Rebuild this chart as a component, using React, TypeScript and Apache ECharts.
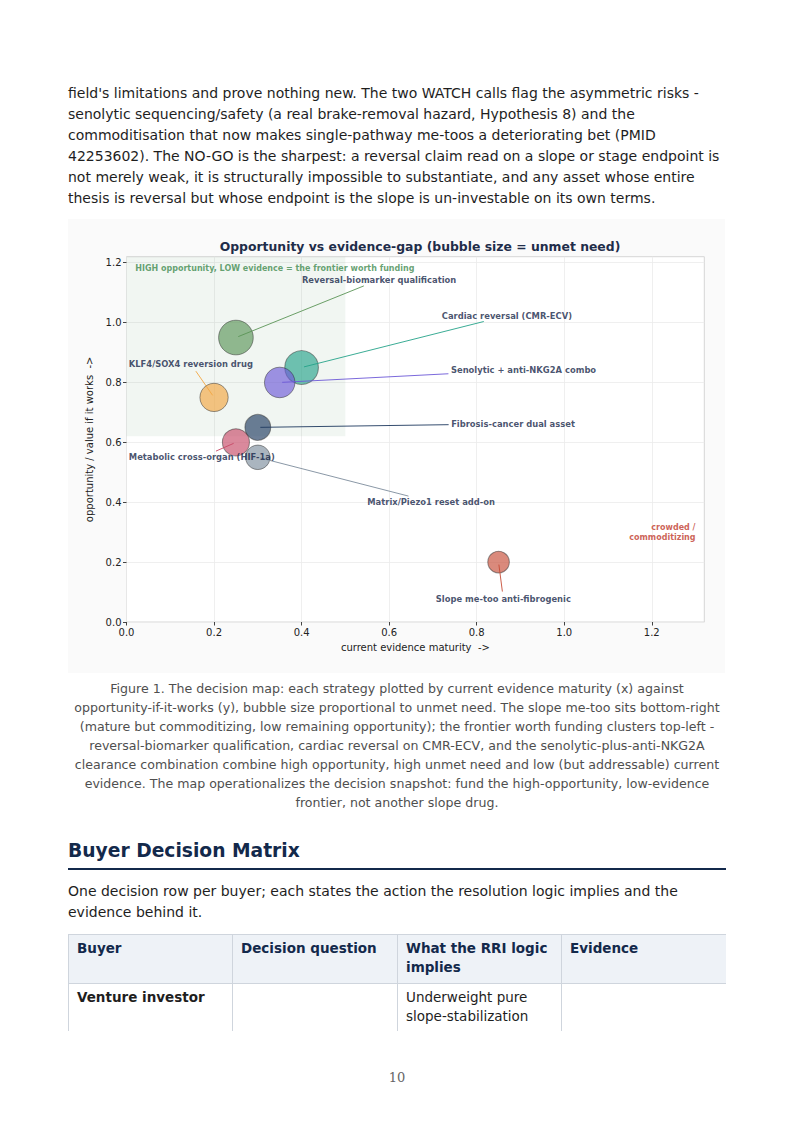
import React, { useEffect, useRef } from "react";
import * as echarts from "echarts";

// ---- chart data ----
const strategies = [
  "Reversal-biomarker qualification",
  "Cardiac reversal (CMR-ECV)",
  "Senolytic + anti-NKG2A combo",
  "KLF4/SOX4 reversion drug",
  "Fibrosis-cancer dual asset",
  "Metabolic cross-organ (HIF-1a)",
  "Matrix/Piezo1 reset add-on",
  "Slope me-too anti-fibrogenic",
];
const evidence = [0.25, 0.4, 0.35, 0.2, 0.3, 0.25, 0.3, 0.85];
const opportunity = [0.95, 0.85, 0.8, 0.75, 0.65, 0.6, 0.55, 0.2];
const unmetNeed = [0.9, 0.85, 0.7, 0.6, 0.5, 0.55, 0.45, 0.35];
const bubbleColors = ["#5b9557", "#26a38a", "#6d59d7", "#f3a641", "#1f3a5f", "#c64967", "#7d8d9c", "#c64c36"];
// annotation text positions (data coords)
const labelX = [0.577, 0.869, 0.907, 0.147, 0.883, 0.172, 0.696, 0.861];
const labelY = [1.143, 1.023, 0.842, 0.862, 0.662, 0.55, 0.401, 0.076];
const xTicks = [0, 0.2, 0.4, 0.6, 0.8, 1.0, 1.2];
const yTicks = [0, 0.2, 0.4, 0.6, 0.8, 1.0, 1.2];
const xRange = [0, 1.32];
const yRange = [0, 1.22];
const frontierX = [0, 0.5];
const frontierY = [0.62, 1.22];
const frontierNote = { text: "HIGH opportunity, LOW evidence = the frontier worth funding", x: 0.02, y: 1.18 };
const crowdedNote = { text: "crowded /\ncommoditizing", x: 1.3, y: 0.3 };

const introLines = [
  "field's limitations and prove nothing new. The two WATCH calls flag the asymmetric risks -",
  "senolytic sequencing/safety (a real brake-removal hazard, Hypothesis 8) and the",
  "commoditisation that now makes single-pathway me-toos a deteriorating bet (PMID",
  "42253602). The NO-GO is the sharpest: a reversal claim read on a slope or stage endpoint is",
  "not merely weak, it is structurally impossible to substantiate, and any asset whose entire",
  "thesis is reversal but whose endpoint is the slope is un-investable on its own terms.",
];
const captionLines = [
  "Figure 1. The decision map: each strategy plotted by current evidence maturity (x) against",
  "opportunity-if-it-works (y), bubble size proportional to unmet need. The slope me-too sits bottom-right",
  "(mature but commoditizing, low remaining opportunity); the frontier worth funding clusters top-left -",
  "reversal-biomarker qualification, cardiac reversal on CMR-ECV, and the senolytic-plus-anti-NKG2A",
  "clearance combination combine high opportunity, high unmet need and low (but addressable) current",
  "evidence. The map operationalizes the decision snapshot: fund the high-opportunity, low-evidence",
  "frontier, not another slope drug.",
];
const matrixLines = [
  "One decision row per buyer; each states the action the resolution logic implies and the",
  "evidence behind it.",
];
const tableHeader = ["Buyer", "Decision question", "What the RRI logic implies", "Evidence"];
const tableRow = ["Venture investor", "", "Underweight pure slope-stabilization", ""];

const FONT = "'DejaVu Sans', Verdana, sans-serif";
const LABEL_SIZE = 8.4;

function Chart() {
  const ref = useRef<HTMLDivElement>(null);
  useEffect(() => {
    if (!ref.current) return;
    const chart = echarts.init(ref.current, null, { renderer: "svg" });
    const base: any = {
      animation: false,
      backgroundColor: "#fafafa",
      textStyle: { fontFamily: FONT },
      title: {
        text: "Opportunity vs evidence-gap (bubble size = unmet need)",
        left: 347,
        top: 16,
        textAlign: "center",
        textStyle: { fontFamily: FONT, fontSize: 12.4, fontWeight: "bold", color: "#1f2d4a" },
      },
      grid: {
        left: 58.5,
        right: 20.7,
        top: 37.7,
        bottom: 51,
        show: true,
        backgroundColor: "#ffffff",
        borderColor: "#d6d6d6",
        borderWidth: 1,
      },
      xAxis: {
        type: "value",
        min: xRange[0],
        max: xRange[1],
        interval: 0.2,
        name: "current evidence maturity  ->",
        nameLocation: "middle",
        nameGap: 20,
        nameTextStyle: { fontFamily: FONT, fontSize: 10, color: "#222" },
        axisLine: { show: false },
        axisTick: { show: true, length: 3.5, lineStyle: { color: "#444" }, customValues: xTicks },
        axisLabel: {
          customValues: xTicks,
          formatter: (v: number) => v.toFixed(1),
          fontFamily: FONT,
          fontSize: 10,
          color: "#222",
          margin: 5,
        },
        splitLine: { show: true, lineStyle: { color: "#ebebeb", width: 0.8 } },
      },
      yAxis: {
        type: "value",
        min: yRange[0],
        max: yRange[1],
        interval: 0.2,
        name: "opportunity / value if it works  ->",
        nameLocation: "middle",
        nameGap: 22,
        nameTextStyle: { fontFamily: FONT, fontSize: 10, color: "#222" },
        axisLine: { show: false },
        axisTick: { show: true, length: 3.5, lineStyle: { color: "#444" }, customValues: yTicks },
        axisLabel: {
          customValues: yTicks,
          formatter: (v: number) => v.toFixed(1),
          fontFamily: FONT,
          fontSize: 10,
          color: "#222",
          margin: 5,
        },
        splitLine: { show: true, lineStyle: { color: "#ebebeb", width: 0.8 } },
      },
      series: [
        {
          type: "scatter",
          name: "strategies",
          z: 3,
          data: strategies.map((n, i) => ({
            name: n,
            value: [evidence[i], opportunity[i], unmetNeed[i]],
            symbolSize: 36.5 * Math.sqrt(unmetNeed[i]),
            itemStyle: {
              color: bubbleColors[i],
              opacity: 0.65,
              borderColor: "rgba(40,40,40,0.75)",
              borderWidth: 1,
            },
          })),
          markArea: {
            silent: true,
            itemStyle: { color: "rgba(70,130,80,0.075)" },
            data: [[{ xAxis: frontierX[0], yAxis: frontierY[0] }, { xAxis: frontierX[1], yAxis: frontierY[1] }]],
          },
        },
        {
          type: "scatter",
          name: "labels",
          z: 6,
          silent: true,
          symbolSize: 1,
          itemStyle: { color: "transparent" },
          data: strategies.map((n, i) => ({ name: n, value: [labelX[i], labelY[i]] })),
          label: {
            show: true,
            position: "inside",
            formatter: "{b}",
            fontFamily: FONT,
            fontSize: LABEL_SIZE,
            fontWeight: "bold",
            color: "#18284a",
          },
        },
        {
          type: "scatter",
          name: "notes",
          z: 6,
          silent: true,
          symbolSize: 1,
          itemStyle: { color: "transparent" },
          data: [
            {
              name: frontierNote.text,
              value: [frontierNote.x, frontierNote.y],
              label: { align: "left", color: "#3f8a4f" },
            },
            {
              name: crowdedNote.text,
              value: [crowdedNote.x, crowdedNote.y],
              label: { align: "right", color: "#c0392b", lineHeight: 10 },
            },
          ],
          label: {
            show: true,
            position: "inside",
            formatter: "{b}",
            fontFamily: FONT,
            fontSize: 8,
            fontWeight: "bold",
          },
        },
      ],
    };
    chart.setOption(base);

    // connector lines: from label bbox edge to bubble centre
    const cv = document.createElement("canvas");
    const ctx = cv.getContext("2d")!;
    ctx.font = `bold ${LABEL_SIZE}px 'DejaVu Sans'`;
    const lineSeries = strategies.map((n, i) => {
      const P = chart.convertToPixel({ gridIndex: 0 }, [evidence[i], opportunity[i]]) as number[];
      const L = chart.convertToPixel({ gridIndex: 0 }, [labelX[i], labelY[i]]) as number[];
      const hw = ctx.measureText(n).width / 2;
      const hh = LABEL_SIZE * 0.62;
      const dx = P[0] - L[0];
      const dy = P[1] - L[1];
      const len = Math.hypot(dx, dy);
      const t = Math.min(dx !== 0 ? hw / Math.abs(dx) : Infinity, dy !== 0 ? hh / Math.abs(dy) : Infinity);
      const shrink = 2.5 / len;
      const S = [L[0] + (t + shrink) * dx, L[1] + (t + shrink) * dy];
      const E = [P[0] - shrink * dx, P[1] - shrink * dy];
      const s = chart.convertFromPixel({ gridIndex: 0 }, S) as number[];
      const e = chart.convertFromPixel({ gridIndex: 0 }, E) as number[];
      return {
        type: "line",
        name: "link-" + i,
        z: 5,
        silent: true,
        symbol: "none",
        lineStyle: { color: bubbleColors[i], width: 1, opacity: 0.9 },
        data: [s, e],
      };
    });
    chart.setOption({ series: [...base.series, ...lineSeries] });
    return () => chart.dispose();
  }, []);
  return <div ref={ref} style={{ width: 657, height: 454 }} />;
}

export default function App() {
  const textColor = "#1e1e1e";
  return (
    <div style={{ position: "absolute", left: 0, top: 0, width: 794, height: 1123, fontFamily: FONT, background: "#fff" }}>
      <div style={{ position: "absolute", left: 68, top: 82.5, fontSize: 14, lineHeight: "21px", color: textColor }}>
        {introLines.map((l, i) => (
          <div key={i} style={{ whiteSpace: "nowrap" }}>{l}</div>
        ))}
      </div>
      <div style={{ position: "absolute", left: 68, top: 219 }}>
        <Chart />
      </div>
      <div style={{ position: "absolute", left: 68, width: 658, top: 678.5, fontSize: 12.6, lineHeight: "19px", color: "#4f4f4f", textAlign: "center" }}>
        {captionLines.map((l, i) => (
          <div key={i} style={{ whiteSpace: "nowrap" }}>{l}</div>
        ))}
      </div>
      <div style={{ position: "absolute", left: 68, width: 658, top: 837, fontSize: 18.7, fontWeight: "bold", color: "#13294b", lineHeight: "28px" }}>
        Buyer Decision Matrix
      </div>
      <div style={{ position: "absolute", left: 68, width: 658, top: 868, height: 2, background: "#13294b" }} />
      <div style={{ position: "absolute", left: 68, top: 880.5, fontSize: 14, lineHeight: "21px", color: textColor }}>
        {matrixLines.map((l, i) => (
          <div key={i} style={{ whiteSpace: "nowrap" }}>{l}</div>
        ))}
      </div>
      <div style={{ position: "absolute", left: 68, top: 934, width: 658, height: 97, overflow: "hidden" }}>
        <table style={{ borderCollapse: "collapse", width: 658, tableLayout: "fixed", fontSize: 13.5, lineHeight: "19px" }}>
          <colgroup>
            <col style={{ width: 164 }} />
            <col style={{ width: 165 }} />
            <col style={{ width: 164 }} />
            <col style={{ width: 165 }} />
          </colgroup>
          <thead>
            <tr>
              {tableHeader.map((h, i) => (
                <th key={i} style={{ textAlign: "left", verticalAlign: "top", background: "#eef2f7", color: "#13294b", fontWeight: "bold", border: "1px solid #cfd5dd", padding: "4px 8px 6px 8px", height: 38 }}>
                  {h}
                </th>
              ))}
            </tr>
          </thead>
          <tbody>
            <tr>
              {tableRow.map((c, i) => (
                <td key={i} style={{ verticalAlign: "top", color: textColor, fontWeight: i === 0 ? "bold" : "normal", border: "1px solid #cfd5dd", padding: "4px 8px", height: 80 }}>
                  {c}
                </td>
              ))}
            </tr>
          </tbody>
        </table>
      </div>
      <div style={{ position: "absolute", left: 0, width: 794, top: 1070, textAlign: "center", fontFamily: "'DejaVu Serif', 'Liberation Serif', serif", fontSize: 13, color: "#666" }}>
        10
      </div>
    </div>
  );
}
